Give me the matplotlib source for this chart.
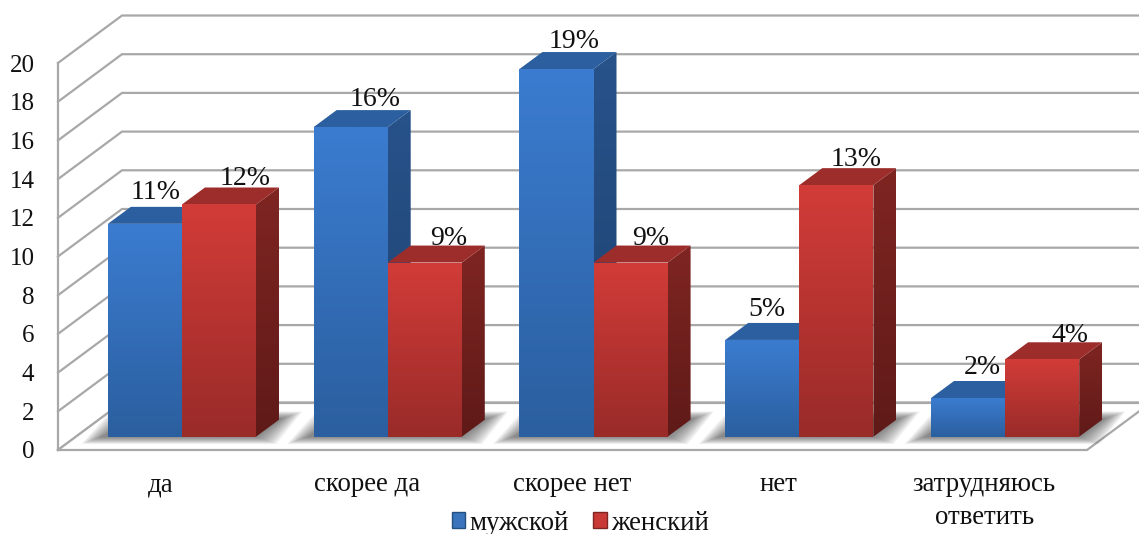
import numpy as np
import matplotlib
matplotlib.use("Agg")
import matplotlib.pyplot as plt
from matplotlib.colors import LinearSegmentedColormap
from matplotlib.patches import Polygon, Patch

plt.rcParams['font.family'] = ['Liberation Serif', 'DejaVu Serif']

categories = ['да', 'скорее да', 'скорее нет', 'нет', 'затрудняюсь\nответить']
male = [11, 16, 19, 5, 2]
female = [12, 9, 9, 13, 4]
series_names = ['мужской', 'женский']
yticks = list(range(0, 21, 2))

# hand-placed label nudges of the original (pixels from the default spot)
male_nudge = [11, 24, 18, 5, 14]
female_nudge = [26, 24, 20, 20, 28]
male_lift = [14, 11, 11, 13, 14]
female_lift = [9, 7, 7, 9, 7]

W, H = 1139, 534
L, R, T, B = 58, 1087, 63, 450
fig = plt.figure(figsize=(W / 100, H / 100), dpi=100, facecolor='white')
ax = fig.add_axes([L / W, 1 - B / H, (R - L) / W, (B - T) / H])
ax.set_xlim(-0.5, 4.5)
ax.set_ylim(0, 20)
ux = (R - L) / 5      # pixels per category
uy = (B - T) / 20     # pixels per value unit
px = lambda p: p / ux
py = lambda p: p / uy

WALL_DX, WALL_DY = px(64), py(47.5)
OFF_X, OFF_Y = px(21), py(13.3)
BAR_DX, BAR_DY = px(23), py(17)
BAR_W = 0.36
GRID = '#a8a8a8'
xmax_back = 4.5 + px(80)

# walls
for v in yticks:
    ax.plot([-0.5, -0.5 + WALL_DX, xmax_back], [v, v + WALL_DY, v + WALL_DY],
            color=GRID, lw=1.6, clip_on=False, zorder=1, solid_joinstyle='miter')
ax.plot([-0.5, -0.5], [0, 20], color=GRID, lw=1.6, clip_on=False, zorder=1)

# white floor hides the part of the wall lines that lies beneath it
ax.add_patch(Polygon([(-0.5, 0), (4.5, 0), (4.5 + WALL_DX, WALL_DY), (-0.5 + WALL_DX, WALL_DY)],
                     closed=True, fc='white', ec='none', zorder=1.2, clip_on=False))
ax.plot([-0.5 + WALL_DX, xmax_back], [WALL_DY, WALL_DY], color=GRID, lw=1.6, clip_on=False, zorder=1.3)
ax.plot([-0.5, -0.5 + WALL_DX], [0, WALL_DY], color=GRID, lw=1.6, clip_on=False, zorder=1.3)
ax.plot([-0.5, 4.5, 4.5 + WALL_DX], [0, 0, WALL_DY], color=GRID, lw=1.6, clip_on=False,
        zorder=1.3, solid_joinstyle='miter')

# soft floor shadow around each pair
for i in range(len(categories)):
    x0 = i - BAR_W + OFF_X
    x1 = i + BAR_W + OFF_X
    n = 24
    for k in range(n):
        gx, gy = px(k * 0.9), py(k * 0.32)
        poly = [(x0 - px(6) - gx, OFF_Y - gy),
                (x1 + gx, OFF_Y - gy),
                (x1 + BAR_DX + px(3) + gx, OFF_Y + BAR_DY + py(1) + gy),
                (x0 + BAR_DX - gx, OFF_Y + BAR_DY + py(1) + gy)]
        ax.add_patch(Polygon(poly, closed=True, fc='#404040', ec='none', alpha=0.036,
                             zorder=1.4, clip_on=False))


def grad(c_top, c_bot):
    return LinearSegmentedColormap.from_list('g', [c_bot, c_top])


GRAD = np.linspace(0, 1, 128).reshape(-1, 1)


def face(poly, cmap, z):
    xs, ys = zip(*poly)
    im = ax.imshow(GRAD, origin='lower', cmap=cmap, aspect='auto', zorder=z,
                   extent=(min(xs), max(xs), min(ys), max(ys)), interpolation='bilinear')
    patch = Polygon(poly, closed=True, transform=ax.transData, fc='none', ec='none')
    ax.add_patch(patch)
    patch.set_clip_on(False)
    im.set_clip_box(fig.bbox)      # images fall back to the axes box otherwise
    im.set_clip_path(patch)


def bar3d(left, value, colors, z):
    xa, xb = left + OFF_X, left + BAR_W + OFF_X
    y0, y1 = OFF_Y, value + OFF_Y
    side = [(xb, y0), (xb + BAR_DX, y0 + BAR_DY), (xb + BAR_DX, y1 + BAR_DY), (xb, y1)]
    face(side, grad(colors['side_top'], colors['side_bot']), z)
    top = [(xa, y1), (xb, y1), (xb + BAR_DX, y1 + BAR_DY), (xa + BAR_DX, y1 + BAR_DY)]
    ax.add_patch(Polygon(top, closed=True, fc=colors['top'], ec='none', zorder=z + 0.1, clip_on=False))
    face([(xa, y0), (xb, y0), (xb, y1), (xa, y1)],
         grad(colors['front_top'], colors['front_bot']), z + 0.2)


BLUE = dict(front_top='#3b7cd0', front_bot='#2b5f9f', side_top='#27528a', side_bot='#1f4270', top='#2c5f9f')
RED = dict(front_top='#d23c38', front_bot='#992b29', side_top='#7f2522', side_bot='#5f1a18', top='#9c2d2b')

for i in range(len(categories)):
    z = 2 + i
    bar3d(i - BAR_W, male[i], BLUE, z)
    bar3d(i, female[i], RED, z + 0.4)

# value labels
for i in range(len(categories)):
    for left, vals, nudge, lift in ((i - BAR_W, male, male_nudge, male_lift),
                                    (i, female, female_nudge, female_lift)):
        ax.text(left + BAR_W / 2 + OFF_X + px(nudge[i]), vals[i] + OFF_Y + BAR_DY + py(lift[i]),
                f'{vals[i]}%', ha='center', va='center', fontsize=20, color='#111111',
                zorder=20, clip_on=False)

ax.set_xlim(-0.5, 4.5)
ax.set_ylim(0, 20)
ax.set_xticks(range(len(categories)), categories, linespacing=1.4)
ax.set_yticks(yticks)
ax.tick_params(axis='both', length=0, labelcolor='#111111')
ax.tick_params(axis='y', pad=17, labelsize=18)
ax.tick_params(axis='x', pad=16, labelsize=19.4)
for s in ax.spines.values():
    s.set_visible(False)
ax.patch.set_visible(False)

handles = [Patch(fc='#3a74bd', ec='#24507f', label=series_names[0]),
           Patch(fc='#c93a37', ec='#7f2522', label=series_names[1])]
fig.legend(handles=handles, loc='center', bbox_to_anchor=(580.5 / W, 1 - 523 / H), ncols=2,
           frameon=False, fontsize=19.4, handlelength=0.5, handleheight=0.5,
           handletextpad=0.17, columnspacing=0.9, borderpad=0, labelcolor='#111111')

fig.savefig('out.png', dpi=100)
